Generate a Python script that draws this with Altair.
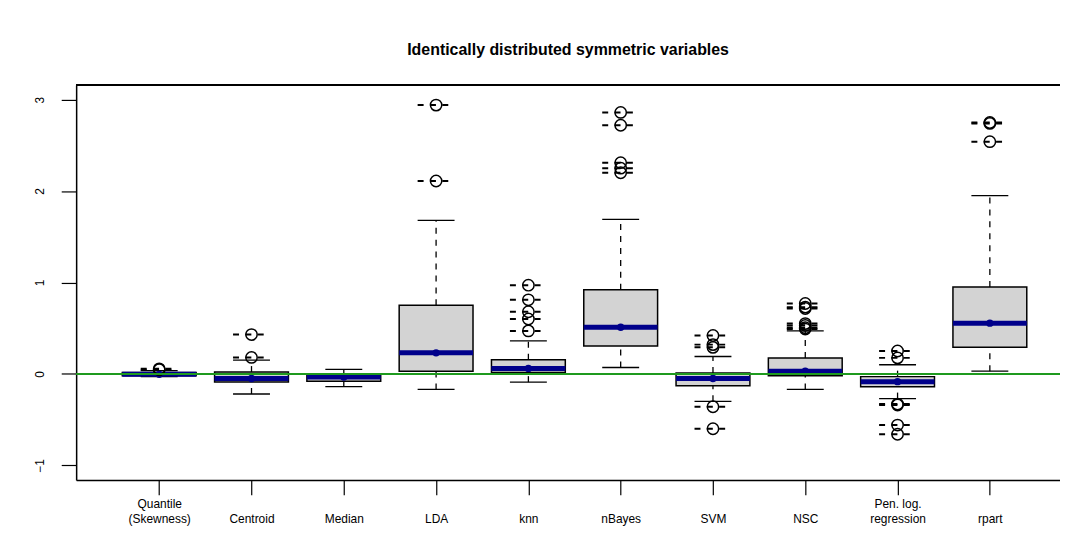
import json
import altair as alt
import pandas as pd

# ---- data ----
methods = ["Quantile\n(Skewness)", "Centroid", "Median", "LDA", "knn", "nBayes",
           "SVM", "NSC", "Pen. log.\nregression", "rpart"]
q1 = [-0.02, -0.09, -0.08, 0.03, 0.015, 0.305, -0.13, -0.02, -0.14, 0.29]
med = [-0.005, -0.05, -0.035, 0.23, 0.06, 0.51, -0.05, 0.03, -0.085, 0.555]
q3 = [0.015, 0.02, -0.01, 0.75, 0.155, 0.92, 0.01, 0.175, -0.03, 0.95]
lo = [-0.03, -0.22, -0.14, -0.17, -0.09, 0.07, -0.30, -0.17, -0.27, 0.03]
hi = [0.035, 0.15, 0.05, 1.68, 0.36, 1.69, 0.19, 0.47, 0.10, 1.95]
outliers = [
    [0.055, 0.045],
    [0.43, 0.18],
    [],
    [2.94, 2.11],
    [0.97, 0.81, 0.68, 0.60, 0.47],
    [2.86, 2.72, 2.31, 2.25, 2.20],
    [0.42, 0.32, 0.29, -0.36, -0.60],
    [0.77, 0.73, 0.715, 0.55, 0.53, 0.505, 0.49],
    [0.25, 0.175, -0.33, -0.34, -0.56, -0.66],
    [2.75, 2.74, 2.54],
]
y_ticks = [-1, 0, 1, 2, 3]
title_text = "Identically distributed symmetric variables"

positions = list(range(1, len(methods) + 1))
df = pd.DataFrame({"pos": positions, "q1": q1, "med": med, "q3": q3, "lo": lo, "hi": hi})
odf = pd.DataFrame([{"pos": p, "val": v} for p, vals in zip(positions, outliers) for v in vals])

W, H = 989, 397
FONT = "Liberation Sans"
xs = alt.Scale(domain=[0.1, 10.76], nice=False, zero=False)
ys = alt.Scale(domain=[-1.16, 3.16], nice=False, zero=False)

# every label becomes two lines; single-line labels sit on the lower line (as in R)
two_line = [m.replace("\n", "|") if "\n" in m else "|" + m for m in methods]
label_expr = "split(" + json.dumps(two_line) + "[datum.value-1], '|')"

x_axis = alt.Axis(values=positions, labelExpr=label_expr, tickSize=15, tickColor="black",
                  tickWidth=1.2, domainColor="black", domainWidth=1.5, grid=False,
                  labelFont=FONT, labelFontSize=12, labelColor="black",
                  labelBaseline="bottom", labelPadding=16, labelLineHeight=15,
                  labelFlush=False, labelOverlap=False, title=None)
y_axis = alt.Axis(values=y_ticks, tickSize=15, tickColor="black", tickWidth=1.2,
                  domainColor="black", domainWidth=1.5, grid=False,
                  labelFont=FONT, labelFontSize=12, labelColor="black",
                  labelAngle=270, labelAlign="center", labelBaseline="bottom",
                  labelPadding=15, labelFlush=False, labelOverlap=False, title=None,
                  format="d")


def X(f):
    return alt.X(f, type="quantitative", scale=xs, axis=x_axis, title=None)


def Y(f):
    return alt.Y(f, type="quantitative", scale=ys, axis=y_axis, title=None)


base = alt.Chart(df).transform_calculate(
    bl="datum.pos - 0.4", br="datum.pos + 0.4",
    cl="datum.pos - 0.2", cr="datum.pos + 0.2")

whisk_up = base.mark_rule(color="black", strokeWidth=1.3, strokeDash=[6, 6]).encode(
    x=X("pos:Q"), y=Y("q3:Q"), y2="hi:Q")
whisk_lo = base.mark_rule(color="black", strokeWidth=1.3, strokeDash=[6, 6]).encode(
    x=X("pos:Q"), y=Y("lo:Q"), y2="q1:Q")
cap_hi = base.mark_rule(color="black", strokeWidth=1.3).encode(
    x=X("cl:Q"), x2="cr:Q", y=Y("hi:Q"))
cap_lo = base.mark_rule(color="black", strokeWidth=1.3).encode(
    x=X("cl:Q"), x2="cr:Q", y=Y("lo:Q"))
box = base.mark_rect(fill="#D3D3D3", stroke="black", strokeWidth=1.5).encode(
    x=X("bl:Q"), x2="br:Q", y=Y("q1:Q"), y2="q3:Q")
median = base.mark_rule(color="#00008B", strokeWidth=5).encode(
    x=X("bl:Q"), x2="br:Q", y=Y("med:Q"))
dot = base.mark_circle(size=55, color="#00008B", opacity=1).encode(
    x=X("pos:Q"), y=Y("med:Q"))

obase = alt.Chart(odf).transform_calculate(cl="datum.pos - 0.2", cr="datum.pos + 0.2")
out_seg = obase.mark_rule(color="black", strokeWidth=2, strokeDash=[6, 6.4]).encode(
    x=X("cl:Q"), x2="cr:Q", y=Y("val:Q"))
out_pt = obase.mark_point(shape="circle", filled=False, size=130, color="black",
                          strokeWidth=1.5, opacity=1).encode(
    x=X("pos:Q"), y=Y("val:Q"))

zero = alt.Chart(df).mark_rule(color="#1F9A1F", strokeWidth=1.6).encode(y=alt.datum(0))
top_border = alt.Chart(df).mark_rule(color="black", strokeWidth=1.5).encode(
    x=alt.value(0), x2=alt.value(W), y=alt.value(0))

chart = alt.layer(
    whisk_up, whisk_lo, cap_hi, cap_lo, box, median, dot, out_seg, out_pt, zero, top_border
).properties(
    width=W, height=H,
    title=alt.TitleParams(title_text, font=FONT, fontSize=16, fontWeight="bold",
                          color="black", anchor="middle", offset=26),
    autosize=alt.AutoSizeParams(type="none"),
    padding={"left": 68.5, "top": 76, "right": 0, "bottom": 60},
).configure_view(stroke=None).configure(background="white")

chart.save("out.html", embed_options={"renderer": "svg", "actions": False})
